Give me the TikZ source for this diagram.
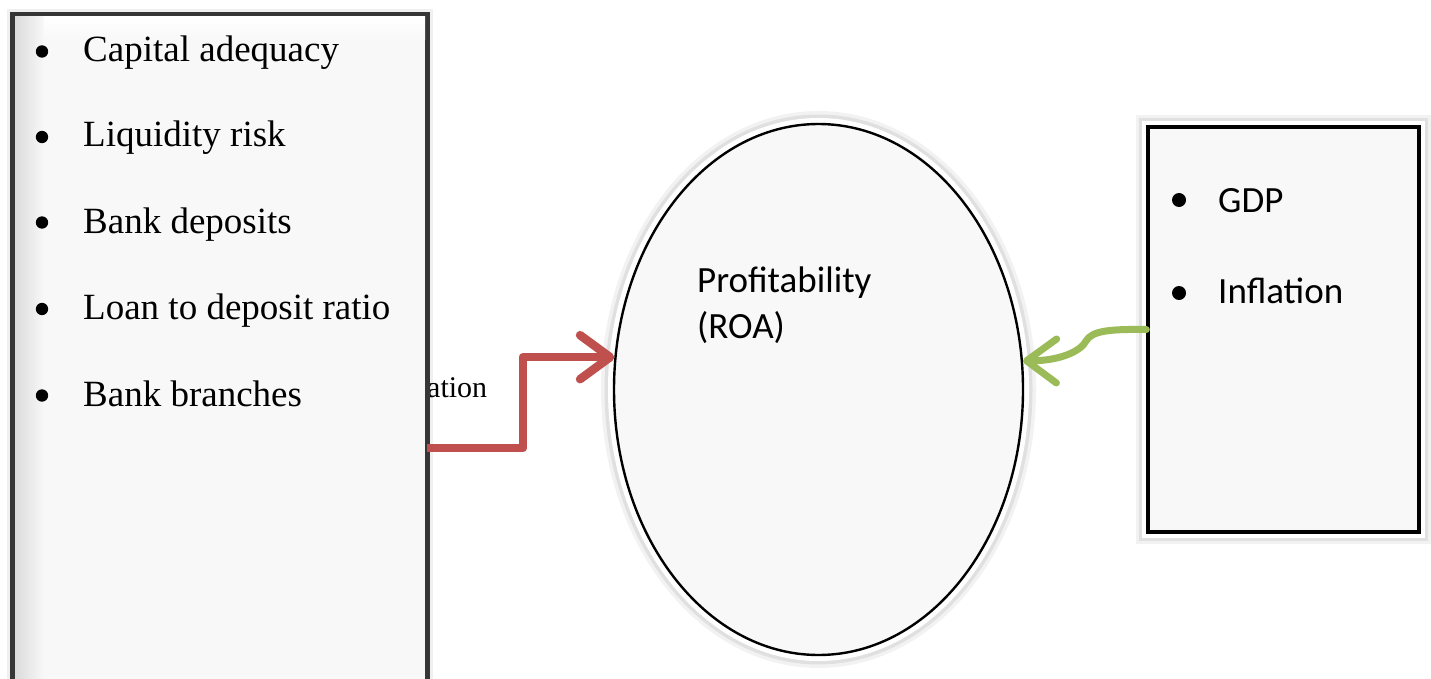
\documentclass[tikz,border=0pt]{standalone}
\usepackage{fontspec}
\setmainfont{Liberation Serif}
\newfontfamily\calibf{Carlito}
\usetikzlibrary{arrows.meta,shapes.geometric}
\definecolor{redc}{HTML}{C0504D}
\definecolor{greenc}{HTML}{9BBB59}
\definecolor{boxfill}{HTML}{F8F8F8}
\definecolor{framec}{HTML}{363636}
\begin{document}
\begin{tikzpicture}[x=1pt,y=-1pt,
  leftbox/.style={rectangle, draw=framec, line width=5pt, fill=boxfill, minimum width=415pt, minimum height=690pt, inner sep=0pt, outer sep=0pt,
     preaction={draw=black, opacity=0.06, line width=11pt}},
  ellbox/.style={ellipse, draw=black, line width=2.4pt, fill=boxfill, minimum width=409pt, minimum height=531pt, inner sep=0pt,
     preaction={draw=black, opacity=0.05, line width=26pt},
     preaction={draw=black, opacity=0.07, line width=19pt},
     preaction={draw=white, line width=12pt}},
  rightbox/.style={rectangle, draw=black, line width=3.4pt, fill=boxfill, minimum width=271pt, minimum height=405pt, inner sep=0pt,
     preaction={draw=black, opacity=0.05, line width=24pt},
     preaction={draw=black, opacity=0.07, line width=18pt},
     preaction={draw=white, line width=12pt}},
  serifitem/.style={anchor=base west, inner sep=0pt, font=\fontsize{37}{44}\selectfont},
  sansitem/.style={anchor=base west, inner sep=0pt, font=\calibf\fontsize{37}{44}\selectfont},
  bulletdot/.style={fill=black},
  redarrow/.style={draw=redc, line width=8.5pt, line join=round, -{Straight Barb[length=30pt, width=44pt, round]}},
  greenarrow/.style={draw=greenc, line width=7pt, line cap=round, -{Straight Barb[length=30pt, width=44pt, round]}}
]
\useasboundingbox (0,0) rectangle (1431,679);
\fill[white] (0,0) rectangle (1431,679);

% partly hidden label
\node[anchor=base west, inner sep=0pt, font=\fontsize{30}{36}\selectfont] (lbl) at (427,397) {ation};

% left box
\node[leftbox, anchor=north west] (lbox) at (12.5,14.5) {};
\shade[left color=black!14, right color=boxfill] (15,17) rectangle (44,679);
\shade[top color=white, bottom color=boxfill] (44,17) rectangle (425,40);

\fill[bulletdot] (42,51.5) circle (6.2);
\fill[bulletdot] (42,137) circle (6.2);
\fill[bulletdot] (42,222.5) circle (6.2);
\fill[bulletdot] (42,309) circle (6.2);
\fill[bulletdot] (42,395.5) circle (6.2);
\node[serifitem] (i1) at (83,62) {Capital adequacy};
\node[serifitem] (i2) at (83,147) {Liquidity risk};
\node[serifitem] (i3) at (83,233) {Bank deposits};
\node[serifitem] (i4) at (83,319.5) {Loan to deposit ratio};
\node[serifitem] (i5) at (83,406) {Bank branches};

% ellipse
\node[ellbox] (ell) at (818.5,389.5) {};
\node[sansitem] (p1) at (697,292) {Profitability};
\node[sansitem] (p2) at (697,338) {(ROA)};

% right box
\node[rightbox] (gbox) at (1283.5,329.5) {};
\fill[bulletdot] (1179,200) circle (7);
\fill[bulletdot] (1179,293) circle (7);
\node[sansitem] (g1) at (1218,212) {GDP};
\node[sansitem] (g2) at (1218,303) {Inflation};

% connectors
\coordinate (r0) at (427,448);
\coordinate (r1) at (523,400);
\draw[redarrow] (r0) -- (r0 -| r1) |- (ell.171);
\draw[greenarrow] (gbox.west) .. controls (1108,329) and (1092,331) .. (1086,341)
   .. controls (1081,351) and (1060,361) .. (ell.8);
\end{tikzpicture}
\end{document}
